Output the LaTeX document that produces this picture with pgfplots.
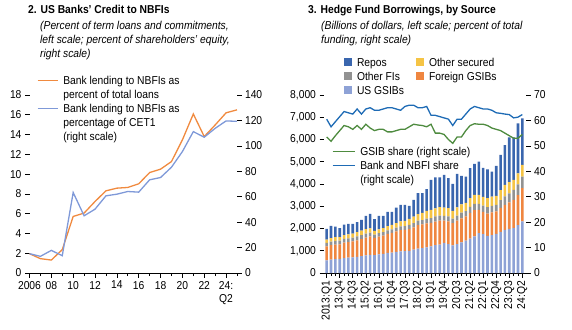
\documentclass[border=0pt]{standalone}
\usepackage{fontspec}
\setmainfont{Liberation Sans}[FakeStretch=0.9]
\usepackage{pgfplots}
\pgfplotsset{compat=1.18}
\usepackage{pgfplotstable}

\definecolor{orangeL}{HTML}{F08A3F}
\definecolor{blueL}{HTML}{7F99D8}
\definecolor{reposC}{HTML}{3A66AE}
\definecolor{otherfiC}{HTML}{929292}
\definecolor{usC}{HTML}{8EA2D6}
\definecolor{securedC}{HTML}{F5C445}
\definecolor{foreignC}{HTML}{EF8640}
\definecolor{greenC}{HTML}{4E8B3F}
\definecolor{bankC}{HTML}{1E6BB5}

\pgfplotstableread{
year pct cet
2006 1.95 15.2
2007 1.45 13.1
2008 1.31 17.8
2009 2.36 13.6
2010 5.72 63.3
2011 6.06 45.0
2012 7.23 50.2
2013 8.31 60.7
2014 8.58 62.0
2015 8.65 64.1
2016 9.02 63.6
2017 10.16 73.3
2018 10.50 75.1
2019 11.27 83.2
2020 13.46 95.5
2021 16.08 111.2
2022 13.80 106.8
2023 14.97 113.8
2024 16.20 119.6
2025 16.50 119.3
}\leftdata

\pgfplotstableread{
q us foreign otherfi secured repos gsib bank
0 570 630 150 150 480 53.5 60.5
1 600 650 155 160 555 51.8 57.5
2 620 660 160 170 480 54 59.5
3 640 650 160 160 410 56 61.5
4 670 700 160 170 470 58 63.5
5 690 700 165 180 475 57.5 63
6 700 720 170 180 440 56.5 62.5
7 730 740 175 190 455 58 64.5
8 760 760 180 200 490 56.5 62.5
9 790 800 180 200 600 58.5 64.5
10 820 830 160 200 650 57 65
11 800 780 150 160 530 56 64
12 840 800 150 170 610 56.5 64
13 860 820 155 180 555 56.5 64.5
14 900 860 160 190 640 55.5 65
15 920 880 160 200 590 55.5 65
16 950 920 170 200 700 56 64.5
17 970 960 170 220 740 56.5 64
18 980 960 170 230 720 56.5 65.5
19 1000 980 180 270 590 57.5 66
20 1050 1000 190 290 760 58.5 66
21 1100 1050 200 300 940 58.2 65
22 1120 1060 200 320 890 58 65
23 1150 1080 210 350 980 57.5 65.5
24 1200 1050 220 370 1350 58.5 62
25 1250 1060 230 370 1390 55 62
26 1280 1070 230 380 1340 55 61.5
27 1350 1000 220 370 1470 54.5 61
28 1300 1020 220 380 1340 52.5 60.5
29 1240 1000 200 350 1220 51 58
30 1300 1050 230 370 1500 53.5 60.5
31 1380 1080 250 380 1270 53.5 60.5
32 1450 1100 230 370 1180 56 62.5
33 1550 1150 270 400 1340 58 64.5
34 1650 1180 280 400 1390 58.7 65.5
35 1790 1050 270 400 1500 58.5 65
36 1750 1000 280 390 1300 58.5 64.5
37 1670 1000 290 400 1300 58 64.5
38 1700 1020 300 410 1130 57 64
39 1760 1010 290 410 1340 56.5 63
40 1850 1080 350 450 1580 56 62.8
41 1940 1120 380 520 1790 55 62.5
42 1980 1200 400 500 2020 54 62.3
43 2020 1270 450 450 1910 53 61
44 2150 1350 480 500 2250 53 61.3
45 2320 1490 520 530 2090 54.5 62.3
}\hfdata

\pgfplotsset{
  base/.style={
    scale only axis,
    font=\fontsize{11.5}{14}\selectfont,
    /pgf/number format/assume math mode=true,
    tick align=outside,
    major tick length=4.5bp,
    minor tick length=3bp,
    tick style={black, line width=0.6bp},
    axis line style={black, line width=0.6bp, -},
    y axis line style={draw=none},
    scaled ticks=false,
    clip=false,
  },
  leg/.style={
    legend style={draw=none, fill=none, inner sep=0pt, outer sep=0pt,
      column sep=4bp, row sep=0pt, nodes={inner sep=1bp},
      font=\fontsize{11.5}{15}\selectfont},
    legend cell align=left,
  },
}

\begin{document}
\begin{tikzpicture}
\path[use as bounding box] (0,0) rectangle (572bp,-330bp);
% titles
\node[anchor=base west, inner sep=0, font=\bfseries\fontsize{11.5}{14}\selectfont] at (28bp,-13.5bp) {2. US Banks’ Credit to NBFIs};
\node[anchor=base west, inner sep=0, font=\itshape\fontsize{11.5}{14}\selectfont] at (40bp,-29bp) {(Percent of term loans and commitments,};
\node[anchor=base west, inner sep=0, font=\itshape\fontsize{11.5}{14}\selectfont] at (40bp,-43bp) {left scale; percent of shareholders’ equity,};
\node[anchor=base west, inner sep=0, font=\itshape\fontsize{11.5}{14}\selectfont] at (40bp,-57bp) {right scale)};
\node[anchor=base west, inner sep=0, font=\bfseries\fontsize{11.5}{14}\selectfont] at (308bp,-13.5bp) {3. Hedge Fund Borrowings, by Source};
\node[anchor=base west, inner sep=0, font=\itshape\fontsize{11.5}{14}\selectfont] at (321bp,-29bp) {(Billions of dollars, left scale; percent of total};
\node[anchor=base west, inner sep=0, font=\itshape\fontsize{11.5}{14}\selectfont] at (321bp,-43bp) {funding, right scale)};

% ---------- Panel 2, left axis ----------
\begin{axis}[base, at={(29.5bp,-273bp)}, anchor=south west,
  width=207.5bp, height=178bp,
  xmin=2006, xmax=2025, ymin=0, ymax=18,
  axis x line*=bottom, axis y line*=left,
  xtick={2006,2008,...,2024}, minor xtick={2007,2009,...,2025},
  xticklabels={2006,08,10,12,14,16,18,20,22,{24:\\Q2}},
  xticklabel style={align=center},
  ytick={0,2,...,18},
]
\addplot[orangeL, line width=1.3bp] table[x=year,y=pct]{\leftdata};
\end{axis}
% ---------- Panel 2, right axis ----------
\begin{axis}[base, leg, at={(29.5bp,-273bp)}, anchor=south west,
  width=207.5bp, height=178bp,
  xmin=2006, xmax=2025, ymin=0, ymax=140,
  axis y line*=right, axis x line=none,
  ytick={0,20,...,140},
  legend style={at={(axis description cs:0.0361,1.1208)}, anchor=north west},
  legend image code/.code={\draw[#1, line width=1.3bp] (0bp,0bp) -- (20bp,0bp);},
]
\addlegendimage{orangeL, line width=1.3bp}
\addlegendentry{Bank lending to NBFIs as\strut}
\addlegendimage{empty legend}
\addlegendentry{percent of total loans\strut}
\addplot[blueL, line width=1.3bp] table[x=year,y=cet]{\leftdata};
\addlegendentry{Bank lending to NBFIs as\strut}
\addlegendimage{empty legend}
\addlegendentry{percentage of CET1\strut}
\addlegendimage{empty legend}
\addlegendentry{(right scale)\strut}
\end{axis}

% ---------- Panel 3, left axis (bars) ----------
\begin{axis}[base, leg, at={(324bp,-273bp)}, anchor=south west,
  width=202bp, height=178bp,
  xmin=-0.62, xmax=45.85, ymin=0, ymax=8000,
  ybar stacked, bar width=2.6bp,
  axis x line*=bottom, axis y line*=left,
  xtick={0,3,...,45}, minor xtick={0,...,45},
  xticklabels={2013:Q1,13:Q4,14:Q3,15:Q2,16:Q1,16:Q4,17:Q3,18:Q2,19:Q1,19:Q4,20:Q3,21:Q2,22:Q1,22:Q4,23:Q3,24:Q2},
  xticklabel style={rotate=90, anchor=east},
  ytick={0,1000,...,8000},
  yticklabel style={/pgf/number format/.cd, 1000 sep={,}},
  reverse legend, legend columns=2,
  legend style={at={(axis description cs:0.099,1.2219)}, anchor=north west},
  legend image code/.code={\fill[#1] (0bp,-4bp) rectangle (8bp,4bp);},
]
\addplot[fill=usC, draw=none] table[x=q,y=us]{\hfdata};
\addlegendentry{\makebox[54bp][l]{US GSIBs\strut}}
\addplot[fill=foreignC, draw=none] table[x=q,y=foreign]{\hfdata};
\addlegendentry{Foreign GSIBs\strut}
\addplot[fill=otherfiC, draw=none] table[x=q,y=otherfi]{\hfdata};
\addlegendentry{\makebox[54bp][l]{Other FIs\strut}}
\addplot[fill=securedC, draw=none] table[x=q,y=secured]{\hfdata};
\addlegendentry{Other secured\strut}
\addplot[fill=reposC, draw=none] table[x=q,y=repos]{\hfdata};
\addlegendentry{\makebox[54bp][l]{Repos\strut}}
\end{axis}
% ---------- Panel 3, right axis (lines) ----------
\begin{axis}[base, leg, at={(324bp,-273bp)}, anchor=south west,
  width=202bp, height=178bp,
  xmin=-0.62, xmax=45.85, ymin=0, ymax=70,
  axis y line*=right, axis x line=none,
  ytick={0,10,...,70},
  legend style={at={(axis description cs:0.0396,0.7219)}, anchor=north west},
  legend image code/.code={\draw[#1, line width=1.3bp] (0bp,0bp) -- (22bp,0bp);},
]
\addplot[greenC, line width=1.3bp] table[x=q,y=gsib]{\hfdata};
\addlegendentry{GSIB share (right scale)\strut}
\addplot[bankC, line width=1.3bp] table[x=q,y=bank]{\hfdata};
\addlegendentry{Bank and NBFI share\strut}
\addlegendimage{empty legend}
\addlegendentry{(right scale)\strut}
\end{axis}
\end{tikzpicture}
\end{document}
